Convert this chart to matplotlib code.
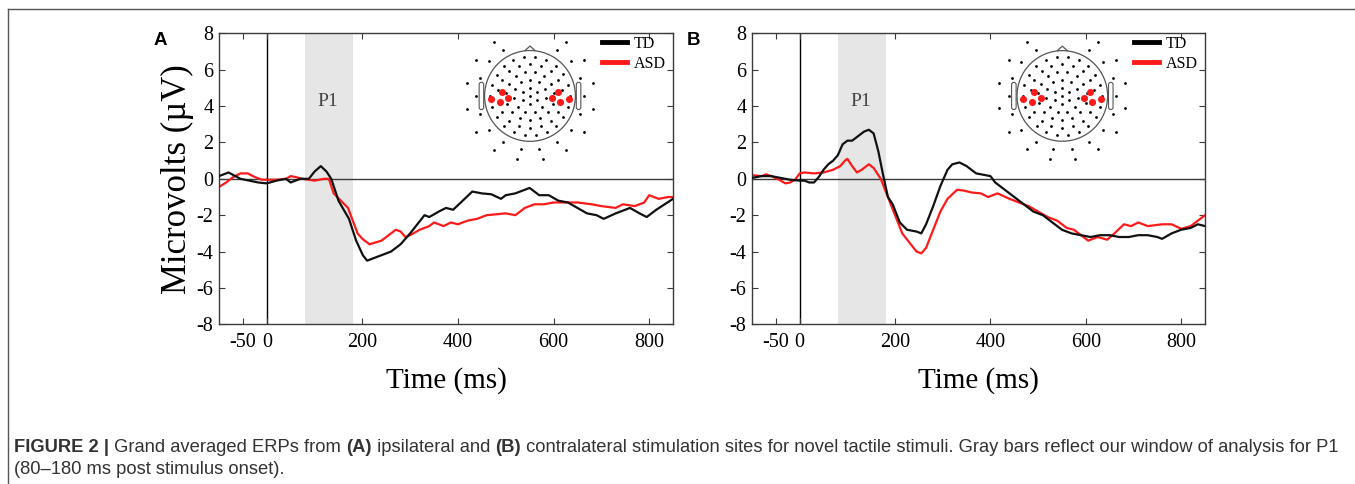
import numpy as np
import matplotlib.pyplot as plt
from matplotlib.lines import Line2D
from matplotlib.patches import Circle, FancyBboxPatch, Polygon

plt.rcParams["axes.unicode_minus"] = False

# ---- data (time in ms, amplitude in microvolts) ----
t_a_td = [-100, -80, -55, -18, 0, 20, 40, 50, 70, 88, 100, 113, 125, 135, 150, 172, 187,
          201, 210, 230, 260, 280, 300, 330, 340, 360, 375, 390, 410, 430, 450, 470, 490,
          500, 520, 540, 550, 570, 590, 610, 630, 650, 670, 690, 705, 730, 760, 780, 795,
          815, 850]
v_a_td = [0.15, 0.35, 0.0, -0.2, -0.25, -0.1, 0.0, -0.2, 0.0, 0.0, 0.4, 0.7, 0.4, 0.0,
          -1.2, -2.2, -3.4, -4.2, -4.5, -4.3, -4.0, -3.6, -3.0, -2.0, -2.1, -1.8, -1.6, -1.7,
          -1.2, -0.7, -0.8, -0.85, -1.1, -0.9, -0.8, -0.6, -0.5, -0.9, -0.9, -1.2, -1.3,
          -1.6, -1.9, -2.0, -2.2, -1.9, -1.6, -1.9, -2.1, -1.7, -1.1]

t_a_asd = [-100, -85, -70, -55, -40, -25, -10, 0, 20, 40, 50, 60, 75, 100, 120, 130, 140,
           155, 170, 180, 190, 200, 215, 240, 260, 270, 280, 290, 300, 320, 340, 350, 370,
           385, 400, 420, 440, 460, 500, 520, 540, 560, 580, 600, 620, 650, 680, 700, 730,
           745, 770, 790, 800, 820, 840, 850]
v_a_asd = [-0.45, -0.2, 0.1, 0.3, 0.3, 0.1, -0.05, -0.05, -0.05, 0.0, 0.15, 0.1, 0.0, -0.1,
           0.0, 0.0, -0.8, -1.2, -1.6, -2.3, -3.0, -3.3, -3.6, -3.4, -3.0, -2.8, -2.9, -3.2,
           -3.1, -2.8, -2.6, -2.4, -2.6, -2.4, -2.5, -2.3, -2.2, -2.0, -1.9, -2.0, -1.6, -1.4,
           -1.4, -1.3, -1.3, -1.3, -1.4, -1.5, -1.6, -1.4, -1.5, -1.3, -0.9, -1.1, -1.0, -1.0]

t_b_td = [-100, -80, -60, -40, -20, 0, 10, 20, 30, 40, 50, 60, 70, 80, 90, 100, 110, 120,
          135, 145, 155, 165, 175, 185, 195, 210, 225, 245, 255, 265, 280, 295, 310, 320,
          335, 350, 370, 390, 400, 410, 430, 450, 470, 490, 510, 530, 550, 570, 590, 610,
          630, 650, 670, 690, 710, 730, 750, 760, 780, 800, 820, 835, 850]
v_b_td = [0.05, 0.15, 0.15, 0.05, -0.05, -0.1, -0.1, -0.2, -0.2, 0.1, 0.5, 0.8, 1.0, 1.3,
          1.9, 2.1, 2.1, 2.3, 2.6, 2.7, 2.5, 1.5, 0.2, -1.0, -1.4, -2.4, -2.8, -2.9, -3.0,
          -2.5, -1.5, -0.4, 0.5, 0.8, 0.9, 0.7, 0.3, 0.2, 0.15, -0.2, -0.6, -1.0, -1.4, -1.8,
          -2.0, -2.4, -2.8, -3.0, -3.1, -3.2, -3.1, -3.1, -3.2, -3.2, -3.1, -3.1, -3.2, -3.3,
          -3.0, -2.8, -2.7, -2.5, -2.6]

t_b_asd = [-100, -80, -70, -55, -40, -30, -20, -10, 0, 10, 30, 50, 70, 85, 95, 100, 110,
           120, 130, 145, 155, 170, 185, 200, 215, 230, 245, 255, 265, 280, 295, 310, 330,
           345, 360, 380, 395, 415, 440, 460, 480, 500, 520, 540, 560, 575, 590, 605, 625,
           645, 660, 680, 695, 710, 730, 760, 780, 800, 820, 835, 850]
v_b_asd = [0.2, 0.15, 0.25, 0.1, -0.1, -0.25, -0.2, -0.05, 0.3, 0.35, 0.3, 0.35, 0.5, 0.7,
           1.0, 1.1, 0.7, 0.35, 0.5, 0.8, 0.6, 0.0, -1.0, -2.0, -3.0, -3.5, -4.0, -4.1, -3.8,
           -2.8, -1.8, -1.1, -0.6, -0.65, -0.75, -0.8, -1.0, -0.8, -1.1, -1.3, -1.5, -1.8,
           -2.1, -2.3, -2.7, -2.8, -3.1, -3.4, -3.2, -3.35, -3.0, -2.5, -2.6, -2.4, -2.6,
           -2.5, -2.5, -2.75, -2.6, -2.3, -2.0]

p1_window = (80, 180)
xticks = [-50, 0, 200, 400, 600, 800]
yticks = [-8, -6, -4, -2, 0, 2, 4, 6, 8]

# electrodes highlighted in red (head-radius units), left side; right side is mirrored
red_left = [(-0.86, -0.07), (-0.62, 0.08), (-0.48, -0.04), (-0.66, -0.14)]

SERIF = "Liberation Serif"
SANS = "Liberation Sans"
RED = "#ff1a1a"
GRID = "#3a3a3a"

fig = plt.figure(figsize=(13.55, 4.84), dpi=100)


def draw_head(ax):
    hx = ax.inset_axes([0.51, 0.545, 0.35, 0.48], transform=ax.transAxes)
    hx.set_xlim(-1.75, 1.75)
    hx.set_ylim(-1.45, 1.45)
    hx.set_aspect("equal")
    hx.axis("off")
    hx.add_patch(Circle((0, 0), 1.0, fill=False, ec="#555555", lw=0.9))
    hx.add_patch(Polygon([[-0.12, 0.99], [0, 1.1], [0.12, 0.99]], closed=False,
                         fill=False, ec="#555555", lw=0.9))
    for s in (-1, 1):
        hx.add_patch(FancyBboxPatch((s * 1.07 - 0.05, -0.3), 0.1, 0.6,
                                    boxstyle="round,pad=0,rounding_size=0.05",
                                    fill=False, ec="#555555", lw=0.8))
    xs, ys = [0.0], [0.0]
    for r, n, off in [(0.18, 6, 90), (0.36, 11, 90), (0.54, 15, 78), (0.71, 18, 90),
                      (0.87, 22, 82)]:
        a = np.deg2rad(off + np.arange(n) * 360.0 / n)
        xs += list(r * np.cos(a))
        ys += list(r * np.sin(a))
    for r, n, skip in [(1.18, 18, 25), (1.42, 16, 30)]:
        a = np.arange(n) * 360.0 / n + 90 + 360.0 / n / 2
        a = a[np.abs(((a - 90 + 180) % 360) - 180) > skip]
        a = np.deg2rad(a)
        xs += list(r * np.cos(a))
        ys += list(r * np.sin(a))
    hx.scatter(xs, ys, s=4, c="black", lw=0)
    red = red_left + [(-x, y) for x, y in red_left]
    hx.scatter([p[0] for p in red], [p[1] for p in red], s=26, c=RED, lw=0, zorder=3)


def erp_panel(rect, td_t, td_v, asd_t, asd_v, letter, ylabel):
    ax = fig.add_axes(rect)
    ax.axvspan(*p1_window, color="#e6e6e6", lw=0, zorder=0)
    ax.axhline(0, color=GRID, lw=1.0, zorder=1)
    ax.axvline(0, color="black", lw=1.0, zorder=1)
    ax.plot(td_t, td_v, color="#111111", lw=1.6, zorder=3)
    ax.plot(asd_t, asd_v, color=RED, lw=1.6, zorder=2)
    ax.set_xlim(-100, 850)
    ax.set_ylim(-8, 8)
    ax.set_xticks(xticks)
    ax.set_yticks(yticks)
    ax.tick_params(direction="in", top=True, right=True, length=4, width=0.8,
                   color=GRID, labelsize=14.5, pad=4)
    ax.tick_params(axis="x", pad=6)
    for lab in ax.get_xticklabels() + ax.get_yticklabels():
        lab.set_fontfamily(SERIF)
    for sp in ax.spines.values():
        sp.set_color(GRID)
        sp.set_linewidth(1.0)
    ax.text(128, 4.0, "P1", fontfamily=SERIF, fontsize=14, color="#444444", ha="center")
    ax.set_xlabel("Time (ms)", fontfamily=SERIF, fontsize=21, labelpad=11)
    if ylabel:
        ax.set_ylabel("Microvolts (\u00b5V)", fontfamily=SERIF, fontsize=25, labelpad=2)
    handles = [Line2D([], [], color="black", lw=3.5), Line2D([], [], color=RED, lw=3.5)]
    ax.legend(handles, ["TD", "ASD"], loc="upper right", bbox_to_anchor=(1.005, 1.025),
              frameon=False, prop={"family": SERIF, "size": 11.5}, handlelength=1.6,
              handletextpad=0.4, labelspacing=0.25, borderaxespad=0.2)
    draw_head(ax)
    fig.text(rect[0] - 0.043, 1 - 45 / 484, letter, fontfamily=SANS, fontweight="bold",
             fontsize=13.5, ha="center")
    return ax


erp_panel([0.1616, 0.330, 0.3351, 0.601], t_a_td, v_a_td, t_a_asd, v_a_asd, "A", True)
erp_panel([0.5550, 0.330, 0.3343, 0.601], t_b_td, v_b_td, t_b_asd, v_b_asd, "B", False)

# figure frame (left and top rules)
fig.add_artist(Line2D([8 / 1355, 8 / 1355], [0, 1 - 9 / 484], color="#555555", lw=1.0))
fig.add_artist(Line2D([8 / 1355, 1], [1 - 9 / 484, 1 - 9 / 484], color="#555555", lw=1.0))

# caption with bold fragments
renderer = fig.canvas.get_renderer()
pieces = [("FIGURE 2 |", "bold"), (" Grand averaged ERPs from ", "normal"), ("(A)", "bold"),
          (" ipsilateral and ", "normal"), ("(B)", "bold"),
          (" contralateral stimulation sites for novel tactile stimuli. Gray bars reflect "
           "our window of analysis for P1", "normal")]
x = 14
for txt, w in pieces:
    t = fig.text(x / 1355, 1 - 452 / 484, txt, fontfamily=SANS, fontweight=w,
                 fontsize=13.2, color="#333333")
    x += t.get_window_extent(renderer).width
fig.text(14 / 1355, 1 - 474 / 484, "(80\u2013180 ms post stimulus onset).", fontfamily=SANS,
         fontsize=13.2, color="#333333")

fig.savefig("out.png", dpi=100)
